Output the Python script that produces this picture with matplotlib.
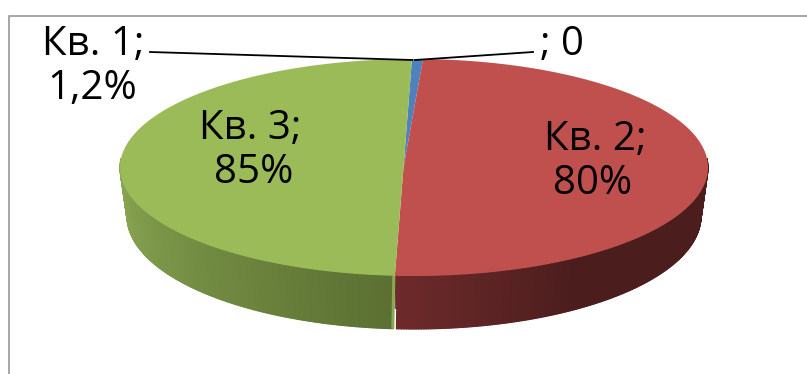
import numpy as np
import matplotlib
matplotlib.use("Agg")
import matplotlib.pyplot as plt
from matplotlib.colors import to_rgb

categories = ["Кв. 1", "Кв. 2", "Кв. 3", ""]
value_labels = ["1,2%", "80%", "85%", "0"]
# Slice shares as drawn in the picture (percent of the circle)
slice_shares = [0.6, 50.55, 48.85]

top_colors = ["#4F81BD", "#C0504D", "#9BBB59"]
wall_left = {1: "#6E2A2B", 2: "#8FAD56"}
wall_mid = {1: "#4B1D1D", 2: "#5B7032"}

W, H = 807, 374
fig = plt.figure(figsize=(W / 100, H / 100), dpi=100)
ax = fig.add_axes([0, 0, 1, 1])
ax.set_xlim(0, W)
ax.set_ylim(H, 0)
ax.axis("off")
plt.rcParams["font.family"] = ["Open Sans", "DejaVu Sans"]

# frame
ax.plot([8.5, 8.5, W], [H, 15.5, 15.5], color="#A6A6A6", lw=1.4, solid_capstyle="butt")

# ellipses
TOP = dict(cx=414, cy=167.5, rx=294, ry=108.5)
LOW = dict(cx=414, cy=216, rx=287, ry=113)
APEX = (403.5, 167.5)


def pt(e, deg):
    t = np.radians(deg)
    return e["cx"] + e["rx"] * np.sin(t), e["cy"] - e["ry"] * np.cos(t)


start = -0.4
edges = start + np.cumsum([0] + slice_shares) * 3.6


def mix(c1, c2, f):
    a, b = np.array(to_rgb(c1)), np.array(to_rgb(c2))
    return tuple(a + (b - a) * f)


def strip(d, d2, col):
    xa, ya = pt(TOP, d)
    xb, yb = pt(TOP, d2)
    xc, yc = pt(LOW, d2)
    xd, yd = pt(LOW, d)
    ax.fill([xa, xb, xc, xd], [ya, yb, yc, yd], fc=col, ec=col, lw=0.8)


# red wall: from right rim round to the front seam
a0, a1 = 85, edges[2] - 0.2
for d in np.arange(a0, a1, 0.5):
    f = (a1 - d) / (a1 - a0)
    strip(d, min(d + 0.6, a1), mix(wall_left[1], wall_mid[1], min(1, f * 2.6)))

# green wall: from seam round to left rim
a0, a1 = edges[2] + 0.7, 275
for d in np.arange(a1 - 0.5, a0 - 0.5, -0.5):
    f = (d - a0) / (a1 - a0)
    strip(d, min(d + 0.6, a1), mix(wall_mid[2], wall_left[2], f))

# seam
sx, sy = pt(TOP, edges[2])
ax.plot([sx - 1, sx - 2], [sy, sy + 53], color="#8AA84F", lw=2.2, solid_capstyle="butt")
ax.plot([sx + 0.6, sx + 0.2], [sy + 34, sy + 54], color="white", lw=1.0)

# top faces
for i, c in enumerate(top_colors):
    arc = np.linspace(edges[i], edges[i + 1], 200)
    xs, ys = pt(TOP, arc)
    ax.fill(np.r_[APEX[0], xs], np.r_[APEX[1], ys], color=c, lw=0)

# leader lines
ax.plot([150, 412], [52, 60], color="black", lw=1.3)
ax.plot([533, 415], [52, 60], color="black", lw=1.3)

fs = 29
style = dict(fontsize=fs, ha="center", va="center", color="black")
ax.text(93, 45, f"{categories[0]};", **style)
ax.text(92, 89, value_labels[0], **style)
ax.text(250, 129, f"{categories[2]};", **style)
ax.text(254, 173, value_labels[2], **style)
ax.text(595, 140, f"{categories[1]};", **style)
ax.text(593, 184, value_labels[1], **style)
ax.text(562, 45, f"; {value_labels[3]}", **style)

fig.savefig("out.png", dpi=100)
